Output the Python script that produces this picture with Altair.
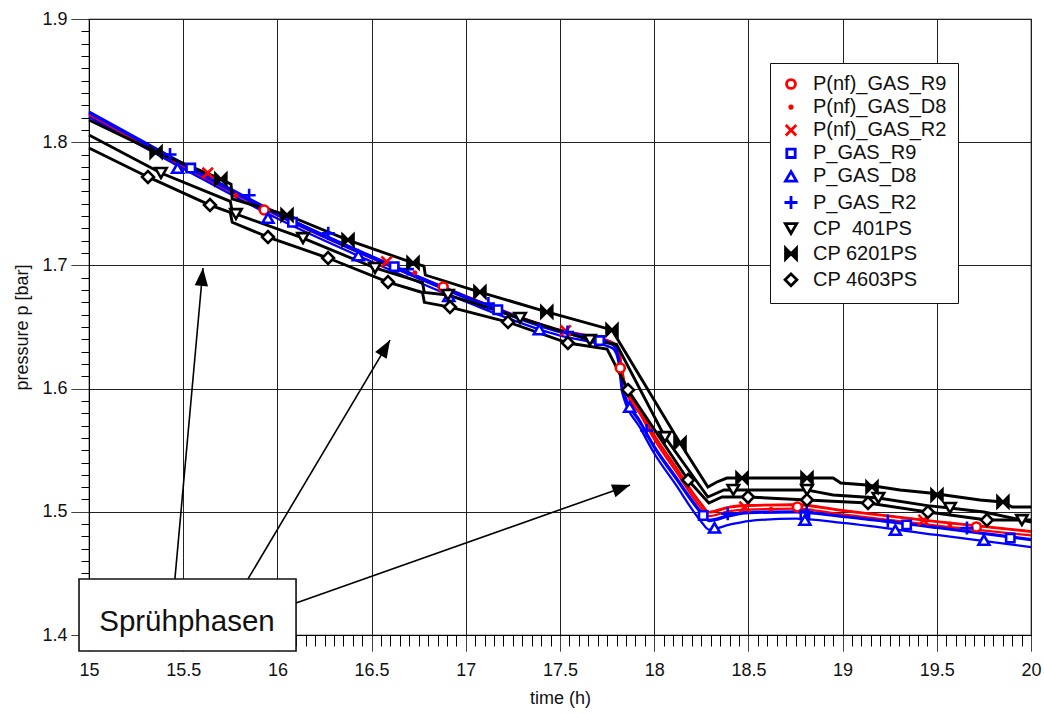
import math
import altair as alt
import pandas as pd

# ---------------- series meta ----------------
SERIES = ["P(nf)_GAS_R9", "P(nf)_GAS_D8", "P(nf)_GAS_R2",
          "P_GAS_R9", "P_GAS_D8", "P_GAS_R2",
          "CP\u00a0\u00a0401PS", "CP 6201PS", "CP 4603PS"]
STROKES = ["#ff0000", "#ff0000", "#ff0000", "#0000ff", "#0000ff", "#0000ff", "#000000", "#000000", "#000000"]
FILLS = ["white", "#ff0000", "white", "white", "white", "white", "white", "#000000", "white"]
SHAPES = ["circle", "circle", "M-1,-1L1,1M-1,1L1,-1", "square", "triangle-up",
          "M-1,0L1,0M0,-1L0,1", "triangle-down", "M-1,-1L0,0L-1,1ZM1,-1L0,0L1,1Z", "diamond"]
SIZES = [80, 6, 110, 70, 120, 170, 130, 120, 140]

# ---------------- smooth simulation curves (time h, pressure bar) ----------------
t_blue = [15.0, 15.5, 16.0, 16.5, 17.0, 17.5, 17.7, 17.78, 17.81, 17.83, 17.93, 18.0, 18.11, 18.25, 18.29, 18.4, 18.5, 18.75, 19.0, 19.5, 20.0]
p_gas_r9 = [1.8237, 1.7815, 1.741, 1.706, 1.6735, 1.6459, 1.6394, 1.6354, 1.6248, 1.6005, 1.571, 1.552, 1.528, 1.4986, 1.4925, 1.4965, 1.499, 1.4995, 1.4958, 1.4869, 1.4771]
p_gas_r2 = [1.825, 1.783, 1.7425, 1.7075, 1.675, 1.6472, 1.6405, 1.6362, 1.626, 1.602, 1.5725, 1.5535, 1.5295, 1.5, 1.4935, 1.4975, 1.5, 1.5003, 1.4965, 1.4876, 1.4778]
p_gas_d8 = [1.8205, 1.7785, 1.738, 1.703, 1.6705, 1.643, 1.6365, 1.6325, 1.622, 1.597, 1.567, 1.5475, 1.523, 1.492, 1.4855, 1.4895, 1.4925, 1.4945, 1.491, 1.4812, 1.4714]

t_red = [15.0, 15.5, 16.0, 16.5, 17.0, 17.5, 17.7, 17.78, 17.81, 17.84, 17.93, 18.0, 18.11, 18.25, 18.29, 18.4, 18.5, 18.75, 19.0, 19.5, 20.0]
p_nf_r9 = [1.8228, 1.7808, 1.7415, 1.7068, 1.6748, 1.6472, 1.6408, 1.637, 1.632, 1.606, 1.581, 1.562, 1.537, 1.506, 1.4995, 1.5035, 1.5048, 1.5055, 1.5008, 1.4918, 1.4838]
p_nf_r2 = [1.8232, 1.7812, 1.742, 1.7072, 1.6752, 1.6476, 1.6412, 1.6374, 1.6325, 1.6065, 1.5815, 1.5625, 1.5375, 1.5065, 1.5, 1.504, 1.5053, 1.506, 1.5013, 1.4922, 1.4842]
p_nf_d8 = [1.8218, 1.7798, 1.7405, 1.7058, 1.6738, 1.6462, 1.6398, 1.636, 1.631, 1.603, 1.578, 1.559, 1.534, 1.503, 1.4965, 1.5005, 1.5018, 1.5025, 1.4978, 1.4888, 1.4808]

# ---------------- measured pressures (staircase sensors) ----------------
t_cp6201 = [15.0, 15.356, 15.70, 15.754, 15.76, 16.051, 16.375, 16.72, 16.778, 16.785, 17.075, 17.43, 17.776, 18.137, 18.285, 18.333, 18.386, 18.95, 18.99, 19.13, 19.305, 19.464, 19.729, 19.85, 19.9, 20.0]
p_cp6201 = [1.818, 1.792, 1.770, 1.766, 1.754, 1.7409, 1.7206, 1.702, 1.6995, 1.6922, 1.6784, 1.6622, 1.6476, 1.5558, 1.5201, 1.5242, 1.5274, 1.5274, 1.5234, 1.5218, 1.5177, 1.5153, 1.5096, 1.508, 1.5039, 1.5039]

t_cp401 = [15.0, 15.382, 15.75, 15.76, 15.78, 16.136, 16.518, 16.77, 16.78, 16.905, 17.288, 17.659, 17.80, 18.057, 18.285, 18.37, 18.42, 18.811, 18.87, 18.95, 19.19, 19.45, 19.57, 19.75, 19.952, 20.0]
p_cp401 = [1.8058, 1.775, 1.752, 1.744, 1.7417, 1.7222, 1.6979, 1.686, 1.678, 1.676, 1.6573, 1.6394, 1.636, 1.5607, 1.512, 1.5177, 1.5177, 1.5177, 1.516, 1.5136, 1.5112, 1.505, 1.5031, 1.4998, 1.4933, 1.4917]

t_cp4603 = [15.0, 15.313, 15.642, 15.75, 15.76, 15.95, 16.269, 16.587, 16.77, 16.78, 16.916, 17.224, 17.542, 17.75, 17.861, 18.18, 18.29, 18.36, 18.498, 18.811, 19.135, 19.453, 19.766, 20.0]
p_cp4603 = [1.7953, 1.7718, 1.749, 1.743, 1.735, 1.723, 1.706, 1.6865, 1.678, 1.670, 1.6662, 1.654, 1.637, 1.632, 1.5989, 1.5258, 1.5071, 1.512, 1.512, 1.5096, 1.5071, 1.4998, 1.4933, 1.4933]

# ---------------- marker positions ----------------
mk_nf_r9_t = [15.93, 16.88, 17.82, 18.76, 19.71]
mk_nf_r9_p = [1.745, 1.6825, 1.6167, 1.5039, 1.4877]
mk_nf_d8_t = [15.78, 16.73, 17.68, 18.62, 19.57]
mk_nf_d8_p = [1.757, 1.694, 1.642, 1.502, 1.490]
mk_nf_r2_t = [15.63, 16.58, 17.53, 18.48, 19.43]
mk_nf_r2_p = [1.775, 1.703, 1.647, 1.504, 1.4933]
mk_gas_r9_t = [15.54, 16.08, 16.62, 17.17, 17.71, 18.26, 18.80, 19.34, 19.89]
mk_gas_r9_p = [1.779, 1.735, 1.699, 1.664, 1.639, 1.497, 1.4974, 1.4893, 1.4787]
mk_gas_d8_t = [15.47, 15.95, 16.43, 16.91, 17.39, 17.87, 18.32, 18.80, 19.28, 19.75]
mk_gas_d8_p = [1.779, 1.7385, 1.708, 1.675, 1.648, 1.585, 1.487, 1.4933, 1.4852, 1.4771]
mk_gas_r2_t = [15.43, 15.85, 16.27, 16.69, 17.12, 17.54, 17.96, 18.39, 18.81, 19.24, 19.66]
mk_gas_r2_p = [1.790, 1.757, 1.726, 1.697, 1.669, 1.646, 1.566, 1.4985, 1.4995, 1.4925, 1.4869]
mk_cp401_t = [15.382, 15.78, 16.136, 16.518, 16.905, 17.288, 17.659, 18.057, 18.42, 18.811, 19.19, 19.57, 19.952]
mk_cp401_p = [1.775, 1.7417, 1.7222, 1.6979, 1.676, 1.6573, 1.6394, 1.5607, 1.5177, 1.5177, 1.5112, 1.5031, 1.4933]
mk_cp6201_t = [15.356, 15.70, 16.051, 16.375, 16.72, 17.075, 17.43, 17.776, 18.137, 18.466, 18.811, 19.156, 19.501, 19.851]
mk_cp6201_p = [1.792, 1.770, 1.7409, 1.7206, 1.702, 1.6784, 1.6622, 1.6476, 1.5558, 1.5274, 1.5274, 1.5201, 1.5136, 1.508]
mk_cp4603_t = [15.313, 15.642, 15.95, 16.269, 16.587, 16.916, 17.224, 17.542, 17.861, 18.18, 18.498, 18.811, 19.135, 19.453, 19.766]
mk_cp4603_p = [1.7718, 1.749, 1.723, 1.706, 1.6865, 1.6662, 1.654, 1.637, 1.5989, 1.5258, 1.512, 1.5096, 1.5071, 1.4998, 1.4933]

# ---------------- annotation ----------------
box_label = "Sprühphasen"
box_t = [14.947, 16.099]
box_p = [1.387, 1.4455]
label_pos = [15.52, 1.4106]
arrow_from_t = [15.456, 15.844, 16.099]
arrow_from_p = [1.4455, 1.4455, 1.426]
arrow_to_t = [15.605, 16.598, 17.872]
arrow_to_p = [1.6979, 1.6394, 1.5218]

# axis ticks
x_ticks = [round(15 + 0.05 * i, 2) for i in range(101)]
y_ticks = [round(1.4 + 0.01 * i, 2) for i in range(51)]

PX_PER_H = 942 / 5.0
PX_PER_BAR = 616 / 0.5

# ---------------- tables ----------------
smooth_rows = []
for name, tt, pp in [(SERIES[0], t_red, p_nf_r9), (SERIES[1], t_red, p_nf_d8), (SERIES[2], t_red, p_nf_r2),
                     (SERIES[3], t_blue, p_gas_r9), (SERIES[5], t_blue, p_gas_r2), (SERIES[4], t_blue, p_gas_d8)]:
    for a, b in zip(tt, pp):
        smooth_rows.append({"t": a, "p": b, "series": name})
smooth_df = pd.DataFrame(smooth_rows)

black_rows = []
for name, tt, pp in [(SERIES[6], t_cp401, p_cp401), (SERIES[7], t_cp6201, p_cp6201), (SERIES[8], t_cp4603, p_cp4603)]:
    for a, b in zip(tt, pp):
        black_rows.append({"t": a, "p": b, "series": name})
black_df = pd.DataFrame(black_rows)

mk_rows = []
for name, tt, pp in [(SERIES[0], mk_nf_r9_t, mk_nf_r9_p), (SERIES[1], mk_nf_d8_t, mk_nf_d8_p),
                     (SERIES[2], mk_nf_r2_t, mk_nf_r2_p), (SERIES[3], mk_gas_r9_t, mk_gas_r9_p),
                     (SERIES[4], mk_gas_d8_t, mk_gas_d8_p), (SERIES[5], mk_gas_r2_t, mk_gas_r2_p),
                     (SERIES[6], mk_cp401_t, mk_cp401_p), (SERIES[7], mk_cp6201_t, mk_cp6201_p),
                     (SERIES[8], mk_cp4603_t, mk_cp4603_p)]:
    for a, b in zip(tt, pp):
        mk_rows.append({"t": a, "p": b, "series": name})
mk_df = pd.DataFrame(mk_rows)

arrow_df = pd.DataFrame({
    "t": arrow_from_t, "p": arrow_from_p, "t2": arrow_to_t, "p2": arrow_to_p,
})
arrow_df["ang"] = [math.degrees(math.atan2((b - a) * PX_PER_H, (d - c) * PX_PER_BAR))
                   for a, b, c, d in zip(arrow_from_t, arrow_to_t, arrow_from_p, arrow_to_p)]
box_df = pd.DataFrame({"t": [box_t[0]], "t2": [box_t[1]], "p": [box_p[0]], "p2": [box_p[1]]})
label_df = pd.DataFrame({"t": [label_pos[0]], "p": [label_pos[1]], "txt": [box_label]})

FONT = "Liberation Sans"
x_major = "abs(datum.value*2 - round(datum.value*2)) < 0.001"
y_major = "abs(datum.value*10 - round(datum.value*10)) < 0.001"

XS = alt.Scale(domain=[15, 20], nice=False, zero=False)
YS = alt.Scale(domain=[1.4, 1.9], nice=False, zero=False)
XA = alt.Axis(values=x_ticks, format="~g", title="time (h)",
              labelExpr=f"{x_major} ? datum.label : ''", labelFlush=False,
              tickSize=16,
              tickDash={"condition": {"test": x_major, "value": [1, 0]}, "value": [11, 40]},
              gridOpacity={"condition": {"test": x_major, "value": 1}, "value": 0},
              labelPadding=10, titlePadding=10)
YA = alt.Axis(values=y_ticks, format="~g", title="pressure p [bar]",
              labelExpr=f"{y_major} ? datum.label : ''", labelFlush=False,
              tickSize=18,
              tickDash={"condition": {"test": y_major, "value": [1, 0]}, "value": [8, 40]},
              gridOpacity={"condition": {"test": y_major, "value": 1}, "value": 0},
              labelPadding=4, titlePadding=10)
X = alt.X("t:Q", scale=XS, axis=XA)
Y = alt.Y("p:Q", scale=YS, axis=YA)

line_color = alt.Color("series:N", scale=alt.Scale(domain=SERIES, range=STROKES), legend=None)

smooth = alt.Chart(smooth_df).mark_line(strokeWidth=2.3, interpolate="monotone").encode(
    x=X, y=Y, color=line_color, detail="series:N")
black = alt.Chart(black_df).mark_line(strokeWidth=2.9, interpolate="linear").encode(
    x=X, y=Y, color=line_color, detail="series:N")

leg = alt.Legend(orient="none", legendX=681, legendY=44, title=None,
                 labelFont=FONT, labelFontSize=20, labelColor="#111",
                 padding=11, strokeColor="#111", fillColor="white",
                 rowPadding=2.1, symbolStrokeWidth=2.8, labelOffset=12)
points = alt.Chart(mk_df).mark_point(strokeWidth=2.6, opacity=1).encode(
    x=X, y=Y,
    shape=alt.Shape("series:N", scale=alt.Scale(domain=SERIES, range=SHAPES), legend=leg),
    stroke=alt.Stroke("series:N", scale=alt.Scale(domain=SERIES, range=STROKES), legend=leg),
    fill=alt.Fill("series:N", scale=alt.Scale(domain=SERIES, range=FILLS), legend=leg),
    size=alt.Size("series:N", scale=alt.Scale(type="ordinal", domain=SERIES, range=SIZES), legend=leg),
)

arrows = alt.Chart(arrow_df).mark_rule(color="black", strokeWidth=1.6).encode(
    x=X, y=Y, x2="t2:Q", y2="p2:Q")
heads = alt.Chart(arrow_df).mark_point(shape="M0,0L-0.75,2L0.75,2Z", filled=True, color="black",
                                       size=320, opacity=1).encode(
    x=alt.X("t2:Q", scale=XS, axis=XA),
    y=alt.Y("p2:Q", scale=YS, axis=YA),
    angle=alt.Angle("ang:Q", scale=None))
box = alt.Chart(box_df).mark_rect(fill="white", stroke="#111", strokeWidth=1.6).encode(
    x=X, y=Y, x2="t2:Q", y2="p2:Q")
label = alt.Chart(label_df).mark_text(font=FONT, fontSize=29.5, color="#111", baseline="middle").encode(
    x=X, y=Y, text="txt:N")

chart = alt.layer(smooth, black, points, arrows, heads, box, label).resolve_scale(
    color="independent"
).properties(
    width=942, height=616,
    padding={"left": 89, "top": 19, "right": 13, "bottom": 78},
    autosize=alt.AutoSizeParams(type="none"),
).configure_view(stroke="black", strokeWidth=1.2).configure_axis(
    labelFont=FONT, labelFontSize=18, labelColor="#111", titleFont=FONT, titleFontSize=18,
    titleFontWeight="normal", titleColor="#111", domainColor="black", tickColor="black",
    gridColor="#222", gridWidth=1, tickWidth=1,
)

chart.save("out.html", embed_options={"renderer": "svg", "actions": False})
